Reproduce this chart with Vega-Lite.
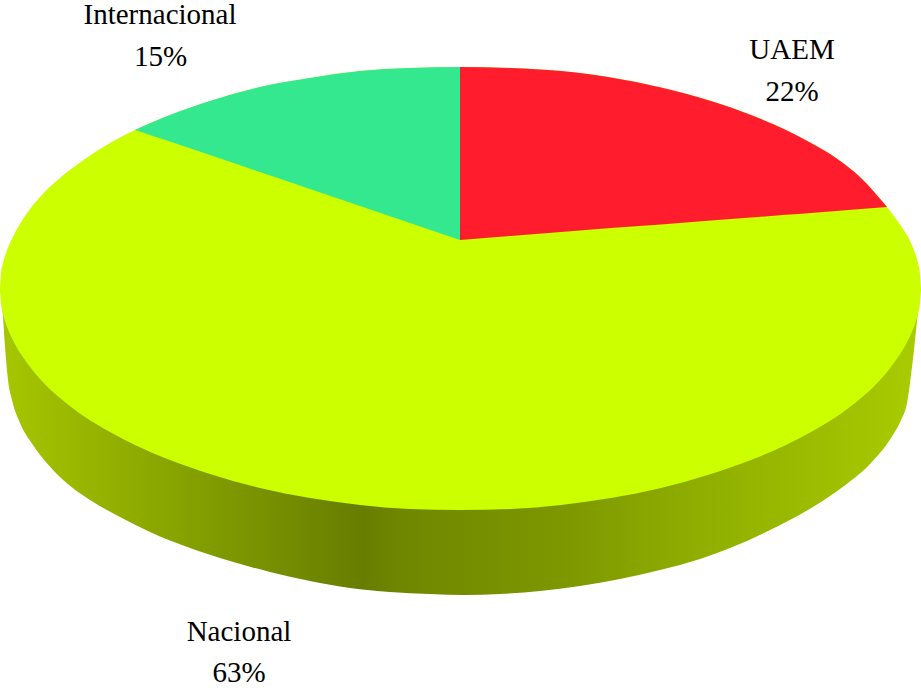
{
  "$schema": "https://vega.github.io/schema/vega-lite/v6.json",
  "width": 921,
  "height": 692,
  "padding": 0,
  "autosize": {"type": "none"},
  "background": "#ffffff",
  "config": {"view": {"stroke": null}},
  "datasets": {
    "wall": [
      {"x": 0, "top": 288, "bottom": 288},
      {"x": 2, "top": 288, "bottom": 303},
      {"x": 5, "top": 288, "bottom": 347},
      {"x": 8, "top": 288, "bottom": 380},
      {"x": 12, "top": 288, "bottom": 400},
      {"x": 20, "top": 288, "bottom": 423},
      {"x": 33, "top": 288, "bottom": 445},
      {"x": 60, "top": 288, "bottom": 477},
      {"x": 90, "top": 288, "bottom": 500},
      {"x": 120, "top": 288, "bottom": 517},
      {"x": 150, "top": 288, "bottom": 532},
      {"x": 190, "top": 288, "bottom": 548},
      {"x": 230, "top": 288, "bottom": 561},
      {"x": 270, "top": 288, "bottom": 572},
      {"x": 310, "top": 288, "bottom": 581},
      {"x": 350, "top": 288, "bottom": 588},
      {"x": 390, "top": 288, "bottom": 592},
      {"x": 430, "top": 288, "bottom": 594},
      {"x": 465, "top": 288, "bottom": 595},
      {"x": 500, "top": 288, "bottom": 594},
      {"x": 540, "top": 288, "bottom": 591},
      {"x": 580, "top": 288, "bottom": 586},
      {"x": 620, "top": 288, "bottom": 579},
      {"x": 660, "top": 288, "bottom": 570},
      {"x": 700, "top": 288, "bottom": 559},
      {"x": 730, "top": 288, "bottom": 548},
      {"x": 770, "top": 288, "bottom": 530},
      {"x": 801, "top": 288, "bottom": 514},
      {"x": 821, "top": 288, "bottom": 502},
      {"x": 844, "top": 288, "bottom": 486},
      {"x": 871, "top": 288, "bottom": 463},
      {"x": 891, "top": 288, "bottom": 438},
      {"x": 901, "top": 288, "bottom": 420},
      {"x": 907, "top": 288, "bottom": 403},
      {"x": 910, "top": 288, "bottom": 383},
      {"x": 914, "top": 288, "bottom": 350},
      {"x": 919, "top": 288, "bottom": 303},
      {"x": 921, "top": 288, "bottom": 288}
    ],
    "face": [
      {"slice": "Nacional", "x": 0, "upper": 288.5, "lower": 288.5},
      {"slice": "Nacional", "x": 1, "upper": 274, "lower": 303},
      {"slice": "Nacional", "x": 3, "upper": 263, "lower": 314},
      {"slice": "Nacional", "x": 6, "upper": 253, "lower": 324},
      {"slice": "Nacional", "x": 10, "upper": 243, "lower": 334},
      {"slice": "Nacional", "x": 16, "upper": 231, "lower": 346},
      {"slice": "Nacional", "x": 25, "upper": 216, "lower": 360},
      {"slice": "Nacional", "x": 40, "upper": 197, "lower": 379},
      {"slice": "Nacional", "x": 60, "upper": 178, "lower": 398},
      {"slice": "Nacional", "x": 85, "upper": 159, "lower": 417},
      {"slice": "Nacional", "x": 110, "upper": 143, "lower": 432},
      {"slice": "Nacional", "x": 135, "upper": 130, "lower": 445},
      {"slice": "Nacional", "x": 170, "upper": 115, "lower": 460},
      {"slice": "Nacional", "x": 210, "upper": 101, "lower": 474},
      {"slice": "Nacional", "x": 260, "upper": 87, "lower": 488},
      {"slice": "Nacional", "x": 310, "upper": 78, "lower": 498},
      {"slice": "Nacional", "x": 360, "upper": 71, "lower": 505},
      {"slice": "Nacional", "x": 410, "upper": 68, "lower": 509},
      {"slice": "Nacional", "x": 460, "upper": 67, "lower": 510},
      {"slice": "Nacional", "x": 511, "upper": 68, "lower": 509},
      {"slice": "Nacional", "x": 561, "upper": 71, "lower": 505},
      {"slice": "Nacional", "x": 611, "upper": 77.5, "lower": 498},
      {"slice": "Nacional", "x": 661, "upper": 87.5, "lower": 488},
      {"slice": "Nacional", "x": 711, "upper": 101, "lower": 474},
      {"slice": "Nacional", "x": 751, "upper": 115, "lower": 460},
      {"slice": "Nacional", "x": 786, "upper": 130, "lower": 445},
      {"slice": "Nacional", "x": 811, "upper": 143, "lower": 432},
      {"slice": "Nacional", "x": 836, "upper": 158, "lower": 417},
      {"slice": "Nacional", "x": 861, "upper": 178, "lower": 398},
      {"slice": "Nacional", "x": 881, "upper": 200, "lower": 379},
      {"slice": "Nacional", "x": 887, "upper": 207, "lower": 372},
      {"slice": "Nacional", "x": 896, "upper": 219, "lower": 360},
      {"slice": "Nacional", "x": 905, "upper": 232, "lower": 346},
      {"slice": "Nacional", "x": 911, "upper": 243, "lower": 334},
      {"slice": "Nacional", "x": 915, "upper": 253, "lower": 324},
      {"slice": "Nacional", "x": 918, "upper": 263, "lower": 314},
      {"slice": "Nacional", "x": 920, "upper": 274, "lower": 303},
      {"slice": "Nacional", "x": 921, "upper": 288.5, "lower": 288.5},
      {"slice": "Internacional", "x": 135, "upper": 130, "lower": 130},
      {"slice": "Internacional", "x": 170, "upper": 115, "lower": 141.4},
      {"slice": "Internacional", "x": 210, "upper": 101, "lower": 155},
      {"slice": "Internacional", "x": 260, "upper": 87, "lower": 172},
      {"slice": "Internacional", "x": 310, "upper": 78, "lower": 189},
      {"slice": "Internacional", "x": 360, "upper": 71, "lower": 206},
      {"slice": "Internacional", "x": 410, "upper": 68, "lower": 223},
      {"slice": "Internacional", "x": 460, "upper": 67, "lower": 240},
      {"slice": "UAEM", "x": 460, "upper": 67, "lower": 240},
      {"slice": "UAEM", "x": 511, "upper": 68, "lower": 236},
      {"slice": "UAEM", "x": 561, "upper": 71, "lower": 232},
      {"slice": "UAEM", "x": 611, "upper": 77.5, "lower": 228},
      {"slice": "UAEM", "x": 661, "upper": 87.5, "lower": 224.5},
      {"slice": "UAEM", "x": 711, "upper": 101, "lower": 220.6},
      {"slice": "UAEM", "x": 751, "upper": 115, "lower": 217.5},
      {"slice": "UAEM", "x": 786, "upper": 130, "lower": 214.8},
      {"slice": "UAEM", "x": 811, "upper": 143, "lower": 212.9},
      {"slice": "UAEM", "x": 836, "upper": 158, "lower": 210.9},
      {"slice": "UAEM", "x": 861, "upper": 178, "lower": 209},
      {"slice": "UAEM", "x": 887, "upper": 207, "lower": 207}
    ],
    "labels": [
      {"text": "Internacional", "x": 160, "y": 24},
      {"text": "15%", "x": 160.5, "y": 66},
      {"text": "UAEM", "x": 792, "y": 59},
      {"text": "22%", "x": 792, "y": 101},
      {"text": "Nacional", "x": 239, "y": 641},
      {"text": "63%", "x": 239, "y": 682}
    ]
  },
  "encoding": {
    "x": {"field": "x", "type": "quantitative", "scale": {"domain": [0, 921], "nice": false, "zero": false}, "axis": null}
  },
  "layer": [
    {
      "data": {"name": "wall"},
      "mark": {
        "type": "area",
        "orient": "vertical",
        "interpolate": "monotone",
        "color": {
          "gradient": "linear",
          "x1": 0, "y1": 0, "x2": 1, "y2": 0,
          "stops": [
            {"offset": 0, "color": "#a6c700"},
            {"offset": 0.11, "color": "#95b200"},
            {"offset": 0.25, "color": "#7d9800"},
            {"offset": 0.395, "color": "#667d00"},
            {"offset": 0.435, "color": "#6f8700"},
            {"offset": 0.61, "color": "#7d9700"},
            {"offset": 0.75, "color": "#8ead00"},
            {"offset": 0.87, "color": "#9abb00"},
            {"offset": 1, "color": "#a9cc00"}
          ]
        }
      },
      "encoding": {
        "y": {"field": "top", "type": "quantitative", "scale": {"domain": [692, 0], "nice": false, "zero": false}, "axis": null},
        "y2": {"field": "bottom"}
      }
    },
    {
      "data": {"name": "face"},
      "mark": {"type": "area", "orient": "vertical", "interpolate": "monotone"},
      "encoding": {
        "y": {"field": "upper", "type": "quantitative", "scale": {"domain": [692, 0], "nice": false, "zero": false}, "axis": null},
        "y2": {"field": "lower"},
        "color": {
          "field": "slice",
          "type": "nominal",
          "scale": {"domain": ["Nacional", "Internacional", "UAEM"], "range": ["#ccff00", "#34e88f", "#ff1d2d"]},
          "legend": null
        }
      }
    },
    {
      "data": {"name": "labels"},
      "mark": {"type": "text", "font": "Liberation Serif", "fontSize": 29, "align": "center", "baseline": "alphabetic", "color": "#000000"},
      "encoding": {
        "y": {"field": "y", "type": "quantitative", "scale": {"domain": [692, 0], "nice": false, "zero": false}, "axis": null},
        "text": {"field": "text"}
      }
    }
  ]
}
